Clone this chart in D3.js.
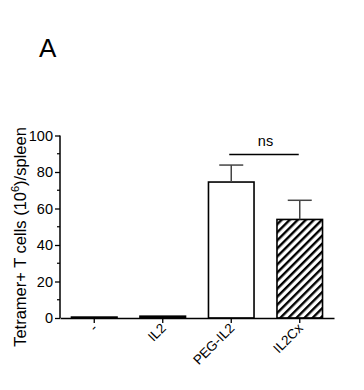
<!DOCTYPE html>
<html>
<head>
<meta charset="utf-8">
<script src="https://cdn.jsdelivr.net/npm/d3@7"></script>
<style>
body { margin: 0; background: #fff; }
text { font-family: "Liberation Sans", Arial, sans-serif; }
</style>
</head>
<body>
<svg width="364" height="390"></svg>
<script>
var groups = ["-", "IL2", "PEG-IL2", "IL2Cx"];
var means = [0.5, 1, 74.5, 54];
var errs = [0, 0, 9.3, 10.5];
var yTicks = [0, 20, 40, 60, 80, 100];
var fills = ["#000", "#000", "#fff", "url(#hatch)"];

var svg = d3.select("svg");
var plotLeft = 60, plotBottom = 318, plotTop = 135.5, plotRight = 334;

var defs = svg.append("defs");
var pat = defs.append("pattern").attr("id", "hatch").attr("patternUnits", "userSpaceOnUse")
  .attr("width", 5.7).attr("height", 5.7).attr("patternTransform", "rotate(45)");
pat.append("rect").attr("width", 5.7).attr("height", 5.7).attr("fill", "#fff");
pat.append("line").attr("x1", 1.2).attr("y1", 0).attr("x2", 1.2).attr("y2", 5.7)
  .attr("stroke", "#000").attr("stroke-width", 2.4);

var x = d3.scaleBand().domain(groups).range([plotLeft, plotRight]).paddingInner(0.335).paddingOuter(0.1675);
var y = d3.scaleLinear().domain([0, 100]).range([plotBottom, plotTop]);

// panel letters
svg.append("text").attr("x", 39).attr("y", 57).attr("font-size", 26).text("A");
svg.append("text").attr("x", 41).attr("y", 412).attr("font-size", 26).text("C");

// bars
svg.selectAll("rect.bar").data(groups).enter().append("rect")
  .attr("class", "bar")
  .attr("x", function(d) { return x(d); })
  .attr("y", function(d, i) { return y(means[i]); })
  .attr("width", x.bandwidth())
  .attr("height", function(d, i) { return plotBottom - y(means[i]); })
  .attr("fill", function(d, i) { return fills[i]; })
  .attr("stroke", "#000").attr("stroke-width", 1.6);

// error bars
var withErr = groups.filter(function(d, i) { return errs[i] > 0; });
var eb = svg.selectAll("g.err").data(withErr).enter().append("g").attr("class", "err");
eb.append("line")
  .attr("x1", function(d) { return x(d) + x.bandwidth() / 2; })
  .attr("x2", function(d) { return x(d) + x.bandwidth() / 2; })
  .attr("y1", function(d) { return y(means[groups.indexOf(d)]); })
  .attr("y2", function(d) { var i = groups.indexOf(d); return y(means[i] + errs[i]); })
  .attr("stroke", "#444").attr("stroke-width", 1.5);
eb.append("line")
  .attr("x1", function(d) { return x(d) + x.bandwidth() / 2 - 12; })
  .attr("x2", function(d) { return x(d) + x.bandwidth() / 2 + 12; })
  .attr("y1", function(d) { var i = groups.indexOf(d); return y(means[i] + errs[i]); })
  .attr("y2", function(d) { var i = groups.indexOf(d); return y(means[i] + errs[i]); })
  .attr("stroke", "#444").attr("stroke-width", 1.5);

// y axis
var yAxis = d3.axisLeft(y).tickValues(yTicks).tickSize(5).tickPadding(2);
var gy = svg.append("g").attr("transform", "translate(" + plotLeft + ",0)").call(yAxis);
gy.select(".domain").attr("stroke-width", 1.5).attr("d", "M0," + plotBottom + "V" + plotTop);
gy.selectAll(".tick line").attr("stroke-width", 1.3);
gy.selectAll(".tick text").attr("font-size", 14.5).attr("fill", "#000")
  .style("font-family", "Liberation Sans, Arial, sans-serif");
var minor = d3.range(10, 100, 20);
gy.selectAll("line.minor").data(minor).enter().append("line")
  .attr("class", "minor").attr("x1", -3).attr("x2", 0)
  .attr("y1", function(d) { return y(d); }).attr("y2", function(d) { return y(d); })
  .attr("stroke", "#000").attr("stroke-width", 1.2);

// x axis
var xAxis = d3.axisBottom(x).tickSize(5).tickSizeOuter(0);
var gx = svg.append("g").attr("transform", "translate(0," + plotBottom + ")").call(xAxis);
gx.select(".domain").attr("stroke-width", 1.5);
gx.selectAll(".tick line").attr("stroke-width", 1.3);
gx.selectAll(".tick text").attr("font-size", 13.5).attr("fill", "#000")
  .style("font-family", "Liberation Sans, Arial, sans-serif")
  .attr("text-anchor", "end").attr("dy", null).attr("y", 0)
  .attr("transform", "translate(4,11) rotate(-45)");

// y label
svg.append("text")
  .attr("transform", "translate(26,237) rotate(-90)")
  .attr("text-anchor", "middle").attr("font-size", 16.5)
  .html('Tetramer+ T cells (10<tspan dy="-7" font-size="11">6</tspan><tspan dy="7">)/spleen</tspan>');

// significance
var x1 = x("PEG-IL2") + x.bandwidth() / 2, x2 = x("IL2Cx") + x.bandwidth() / 2;
svg.append("line").attr("x1", x1 - 2).attr("x2", x2 - 1).attr("y1", 154.5).attr("y2", 154.5)
  .attr("stroke", "#000").attr("stroke-width", 1.5);
svg.append("text").attr("x", (x1 + x2) / 2).attr("y", 146).attr("text-anchor", "middle")
  .attr("font-size", 14.5).text("ns");
</script>
</body>
</html>
